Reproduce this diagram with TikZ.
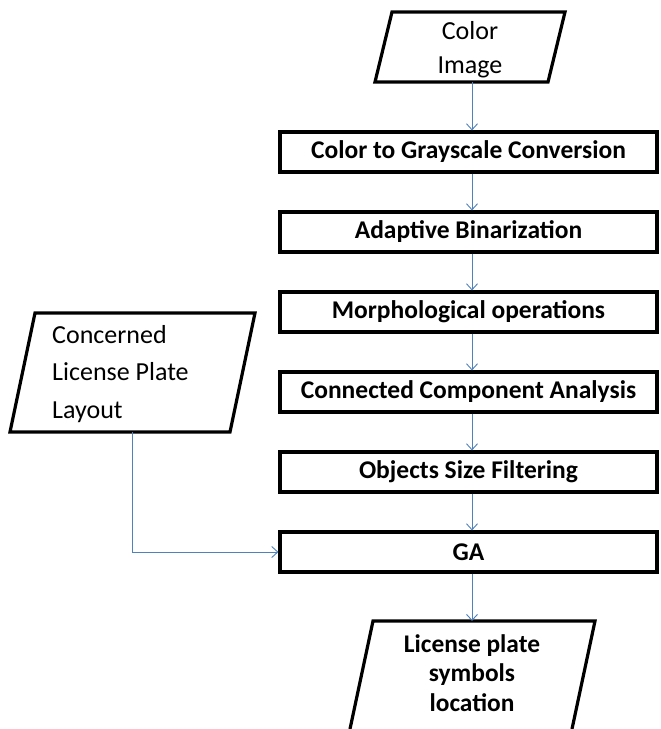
\documentclass[tikz,border=0pt]{standalone}
\usepackage{fontspec}
\setmainfont{Carlito}
\usetikzlibrary{arrows.meta}
\definecolor{arrowblue}{RGB}{79,129,189}
\tikzset{
  procbox/.style={draw=black, line width=3.2pt, minimum width=377pt, minimum height=40pt, inner sep=0pt, font=\bfseries\fontsize{25.5}{30}\selectfont},
  para/.style={draw=black, line width=3.2pt, line join=miter},
  flow/.style={draw=arrowblue, line width=0.9pt, -{Straight Barb[length=6pt,width=11pt,line width=0.9pt]}},
}
\begin{document}
\begin{tikzpicture}[x=1pt,y=-1pt]
\useasboundingbox (0,0) rectangle (661,729);
\fill[white] (0,0) rectangle (661,729);
\begin{scope}
\clip (0,0) rectangle (661,729);
% top parallelogram
\draw[para] (392,12) -- (565,12) -- (548,82) -- (375,82) -- cycle;
\node[align=center, font=\fontsize{26}{34}\selectfont, inner sep=0pt] (cimg) at (470,50) {Color\\Image};
\coordinate (cimgb) at (472,82);
% left parallelogram
\draw[para] (35,313) -- (255,313) -- (230,432) -- (10,432) -- cycle;
\node[align=left, anchor=west, font=\fontsize{26}{37.5}\selectfont, inner sep=0pt] (layout) at (52,374) {Concerned\\License Plate\\Layout};
\coordinate (layoutb) at (132,432);
% bottom parallelogram
\draw[para] (350,729) -- (373,621) -- (595,621) -- (572,729);
\node[align=center, font=\bfseries\fontsize{25.4}{29.5}\selectfont, inner sep=0pt] (loc) at (472,673) {License plate\\symbols\\location};
\coordinate (loct) at (472,621);
\end{scope}
% process boxes
\node[procbox] (b1) at (468.5,152) {Color to Grayscale Conversion};
\node[procbox] (b2) at (468.5,232) {Adaptive Binarization};
\node[procbox] (b3) at (468.5,312) {Morphological operations};
\node[procbox] (b4) at (468.5,392) {Connected Component Analysis};
\node[procbox] (b5) at (468.5,472) {Objects Size Filtering};
\node[procbox] (b6) at (468.5,552) {GA};
% connectors
\draw[flow] (cimgb) -- (cimgb |- b1.north);
\draw[flow] (b1.south -| cimgb) -- (b2.north -| cimgb);
\draw[flow] (b2.south -| cimgb) -- (b3.north -| cimgb);
\draw[flow] (b3.south -| cimgb) -- (b4.north -| cimgb);
\draw[flow] (b4.south -| cimgb) -- (b5.north -| cimgb);
\draw[flow] (b5.south -| cimgb) -- (b6.north -| cimgb);
\draw[flow] (b6.south -| cimgb) -- (loct);
\draw[flow] (layoutb) |- (b6.west);
\end{tikzpicture}
\end{document}
